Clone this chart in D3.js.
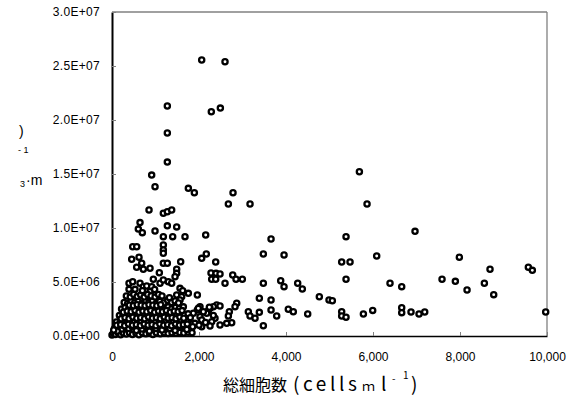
<!DOCTYPE html>
<html>
<head>
<meta charset="utf-8">
<script src="https://cdn.jsdelivr.net/npm/d3@7"></script>
<style>
  body { margin: 0; background: #fff; }
  text { font-family: "Liberation Sans", Arial, sans-serif; }
</style>
</head>
<body>
<div id="chart"></div>
<script>
// total cell count (cells/ml)
const cells = [
  2062, 2598, 1272, 2283, 2491, 1272, 1272, 912, 989, 1755, 1893, 2782, 2675, 3173, 851, 1180, 1272, 1372,
  644, 605, 697, 989, 1272, 1487, 1180, 1395, 1678, 2154, 3656, 476, 568, 1180, 1180, 1180, 3479, 3955,
  2062, 2168, 2384, 453, 621, 567, 683, 874, 720, 1180, 1272, 1579, 1088, 1487, 1487, 1449, 2276, 2391,
  2483, 2292, 2384, 2598, 2775, 2851, 2996, 3479, 3878, 3955, 4269, 4375, 4766, 4989, 391, 476, 644, 720,
  391, 529, 950, 1104, 1180, 798, 912, 874, 1295, 1372, 1563, 1625, 1755, 1962, 1487, 1602, 1563, 3387,
  3656, 2867, 2828, 2697, 2675, 3134, 3173, 3288, 3387, 3656, 3786, 4053, 4168, 4499, 3479, 2483, 2752,
  2637, 2407, 2330, 2253, 2214, 2177, 2023, 1962, 1870, 2023, 2062, 1908, 2062, 1854, 2368, 2292, 2253,
  1985, 2100, 2238, 2483, 2330, 2150, 2000,
  5687, 5863, 5380, 6966, 5280, 5472, 6085, 5380, 7985, 7587, 7893, 8162, 8560, 8690, 8775, 9571, 9663,
  6391, 6660, 5065, 5280, 5280, 5380, 5779, 5993, 6660, 6660, 6874, 7058, 7189, 9970,
  0, 30, 80, 140, 200, 260, 330, 400, 470, 550, 620, 700, 780, 860, 940, 1020, 1110, 1200, 1290, 1380,
  1470, 1560, 1650, 1750, 1840,
  60, 150, 230, 310, 380, 460, 540, 610, 690, 770, 850, 930, 1010, 1090, 1170, 1250, 1330, 1420, 1500,
  1590, 1680,
  100, 190, 270, 350, 430, 510, 590, 670, 750, 830, 910, 1000, 1080, 1160, 1240, 1320, 1410, 1490, 1580,
  1670, 1760,
  170, 250, 330, 410, 490, 570, 650, 730, 810, 890, 980, 1060, 1140, 1230, 1310, 1400, 1480, 1570, 1660, 1750,
  220, 300, 380, 460, 540, 620, 700, 790, 870, 950, 1040, 1120, 1200, 1290, 1370, 1460, 1550, 1640,
  280, 360, 440, 520, 600, 690, 770, 850, 930, 1020, 1100, 1190, 1280, 1370, 1450, 1530,
  330, 420, 500, 580, 660, 740, 820, 900, 990, 1070, 1150,
  120, 40, 260, 560, 860, 1150, 1450, 1720, 1800, 700, 980, 1320,
  110, 200, 290, 380, 470, 560, 650, 740, 830, 920, 1010, 1100, 1190, 1280, 1370, 1460, 1550, 1640, 1730,
  210, 300, 390, 480, 570, 660, 750, 840, 930, 1020, 1110, 1200, 1290, 1380, 1470, 1560, 1650,
  260, 350, 440, 530, 620, 710, 800, 890, 980, 1070, 1160, 1250, 1340, 1430, 1520, 1610,
  400, 490, 580, 670, 760, 850, 940, 1030, 1120
];
// y value (x 1e6)
const values = [
  25.56, 25.4, 21.3, 20.77, 21.1, 18.8, 16.1, 14.9, 13.82, 13.67, 13.27, 13.27, 12.22, 12.22, 11.67, 11.36, 11.51, 11.67,
  10.5, 9.9, 9.57, 9.72, 10.2, 10.1, 9.2, 9.2, 9.2, 9.35, 8.98, 8.27, 8.27, 8.43, 7.96, 7.66, 7.59, 7.5,
  7.19, 7.59, 6.85, 7.1, 7.29, 6.36, 6.73, 6.27, 6.18, 6.73, 6.73, 6.88, 5.86, 6.18, 5.8, 5.49, 5.83, 5.8,
  5.74, 5.25, 5.25, 4.88, 5.65, 5.25, 5.25, 4.88, 5.12, 4.57, 4.88, 4.35, 3.64, 3.33, 4.88, 5.03, 4.88, 4.57,
  4.32, 4.32, 5.25, 4.88, 5.19, 4.63, 4.57, 4.1, 5.03, 4.88, 4.41, 4.2, 3.95, 3.8, 3.8, 3.64, 3.33, 3.49,
  3.33, 3.03, 2.71, 2.25, 1.85, 2.25, 1.85, 1.64, 2.19, 2.41, 1.85, 2.47, 2.25, 2.04, 0.95, 1.02, 1.23,
  1.17, 2.87, 2.71, 2.56, 2.34, 2.1, 2.71, 2.41, 2.1, 1.79, 1.48, 1.17, 0.86, 0.86, 1.64, 1.33, 0.93,
  2.56, 2.25, 2.66, 2.78, 1.9, 1.25, 1.0,
  15.21, 12.22, 9.2, 9.69, 6.85, 6.85, 7.41, 5.25, 7.29, 5.25, 5.06, 4.26, 4.88, 6.18, 3.83, 6.36, 6.08,
  4.88, 4.57, 3.27, 2.25, 1.85, 1.73, 2.04, 2.37, 2.62, 2.16, 2.22, 2.04, 2.22, 2.22,
  0.1, 0.25, 0.15, 0.3, 0.12, 0.28, 0.18, 0.3, 0.15, 0.28, 0.12, 0.3, 0.2, 0.3, 0.15, 0.3, 0.2, 0.3, 0.22, 0.3,
  0.25, 0.32, 0.28, 0.35, 0.3,
  0.7, 0.8, 0.65, 0.85, 0.7, 0.9, 0.75, 0.85, 0.65, 0.9, 0.75, 0.85, 0.7, 0.9, 0.75, 0.85, 0.7, 0.9, 0.8,
  0.9, 0.75,
  1.3, 1.2, 1.45, 1.3, 1.5, 1.25, 1.4, 1.3, 1.5, 1.25, 1.45, 1.3, 1.5, 1.3, 1.45, 1.25, 1.4, 1.3, 1.5,
  1.35, 1.45,
  1.9, 2.05, 1.85, 2.0, 1.9, 2.1, 1.85, 2.05, 1.9, 2.1, 1.85, 2.0, 1.9, 2.1, 1.85, 2.0, 1.9, 2.1, 1.95, 2.05,
  2.5, 2.65, 2.45, 2.6, 2.5, 2.7, 2.45, 2.65, 2.5, 2.7, 2.5, 2.65, 2.45, 2.7, 2.5, 2.65, 2.55, 2.7,
  3.1, 3.0, 3.25, 3.05, 3.2, 3.0, 3.3, 3.1, 3.25, 3.0, 3.2, 3.05, 3.3, 3.1, 3.25, 3.05,
  3.7, 3.6, 3.85, 3.65, 3.8, 3.6, 3.85, 3.7, 3.6, 3.85, 3.7,
  0.45, 0.55, 1.0, 0.5, 0.45, 0.55, 0.5, 0.6, 1.7, 4.2, 4.3, 3.55,
  1.0, 1.05, 0.95, 1.1, 1.0, 1.05, 0.95, 1.1, 1.0, 1.05, 0.95, 1.1, 1.0, 1.05, 0.95, 1.1, 1.0, 1.05, 1.1,
  1.6, 1.7, 1.6, 1.75, 1.65, 1.7, 1.6, 1.75, 1.65, 1.7, 1.6, 1.75, 1.65, 1.7, 1.6, 1.75, 1.65,
  2.2, 2.3, 2.25, 2.35, 2.2, 2.3, 2.25, 2.35, 2.2, 2.3, 2.25, 2.35, 2.2, 2.3, 2.25, 2.35,
  2.85, 2.8, 2.9, 2.85, 2.8, 2.9, 2.85, 2.8, 2.9
];

const xTicks = [0, 2000, 4000, 6000, 8000, 10000];
const xTickLabels = ["0", "2,000", "4,000", "6,000", "8,000", "10,000"];
const yTicks = [0, 5e6, 1e7, 1.5e7, 2e7, 2.5e7, 3e7];
const yTickLabels = ["0.0E+00", "5.0E+06", "1.0E+07", "1.5E+07", "2.0E+07", "2.5E+07", "3.0E+07"];

const W = 576, H = 403;
const margin = { top: 12, right: 29, bottom: 67, left: 112 },
      width  = W - margin.left - margin.right,
      height = H - margin.top - margin.bottom;

const svg = d3.select("#chart").append("svg")
    .attr("width", W)
    .attr("height", H);

const g = svg.append("g")
    .attr("transform", `translate(${margin.left},${margin.top})`);

const x = d3.scaleLinear().domain([0, 10000]).range([0, width]);
const y = d3.scaleLinear().domain([0, 3e7]).range([height, 0]);

// frame (top / right in grey)
g.append("line").attr("x1", 0).attr("x2", width).attr("y1", 0).attr("y2", 0)
  .attr("stroke", "#808080").attr("stroke-width", 1.3);
g.append("line").attr("x1", width).attr("x2", width).attr("y1", 0).attr("y2", height)
  .attr("stroke", "#808080").attr("stroke-width", 1.3);

// x axis
const xAxis = g.append("g")
  .attr("transform", `translate(0,${height})`)
  .call(d3.axisBottom(x).tickValues(xTicks).tickSizeInner(-4).tickSizeOuter(0)
    .tickFormat((d, i) => xTickLabels[i]));
xAxis.select(".domain").attr("stroke", "#000").attr("stroke-width", 1.6);
xAxis.selectAll(".tick line").attr("stroke", "#808080");
xAxis.selectAll("text")
  .attr("y", 16)
  .style("font-size", "12px")
  .style("fill", "#000");

// y axis
const yAxis = g.append("g")
  .call(d3.axisLeft(y).tickValues(yTicks).tickSizeInner(-4).tickSizeOuter(0)
    .tickFormat((d, i) => yTickLabels[i]));
yAxis.select(".domain").attr("stroke", "#000").attr("stroke-width", 2);
yAxis.selectAll(".tick line").attr("stroke", "#808080");
yAxis.selectAll("text")
  .attr("x", -12)
  .style("font-size", "12px")
  .style("letter-spacing", "0.3px")
  .style("fill", "#000");

// points
const pts = cells.map((c, i) => ({ c: c, v: values[i] * 1e6 }));
g.selectAll(".pt")
  .data(pts)
  .enter().append("circle")
  .attr("class", "pt")
  .attr("cx", d => x(d.c))
  .attr("cy", d => y(d.v))
  .attr("r", 2.6)
  .attr("fill", "#fff")
  .attr("stroke", "#000")
  .attr("stroke-width", 2.3);

// x axis title
const jp = "'Noto Sans CJK JP', sans-serif";
const xt = svg.append("text")
  .attr("y", 391)
  .style("font-family", jp)
  .style("font-size", "16px")
  .style("fill", "#000");
xt.append("tspan").attr("x", 223).text("総細胞数");
xt.append("tspan").attr("x", 293).style("font-size", "19px").style("letter-spacing", "3.6px").text("(cells");
xt.append("tspan").attr("x", 362).style("font-size", "13px").text("ｍ");
xt.append("tspan").attr("x", 381).style("font-size", "19px").text("l");
xt.append("tspan").attr("x", 392).attr("y", 382).style("font-size", "10px").text("-");
xt.append("tspan").attr("x", 403).attr("y", 379).style("font-size", "10px").text("1");
xt.append("tspan").attr("x", 411).attr("y", 391).style("font-size", "19px").text(")");

// y axis title fragments
svg.append("text").attr("x", 19).attr("y", 136)
  .style("font-size", "14px").text(")");
svg.append("text").attr("x", 18).attr("y", 153)
  .style("font-size", "9px").text("- 1");
svg.append("text").attr("x", 20).attr("y", 187)
  .style("font-size", "9px").text("3");
svg.append("text").attr("x", 26).attr("y", 185)
  .style("font-size", "14px").text("·m");
</script>
</body>
</html>
